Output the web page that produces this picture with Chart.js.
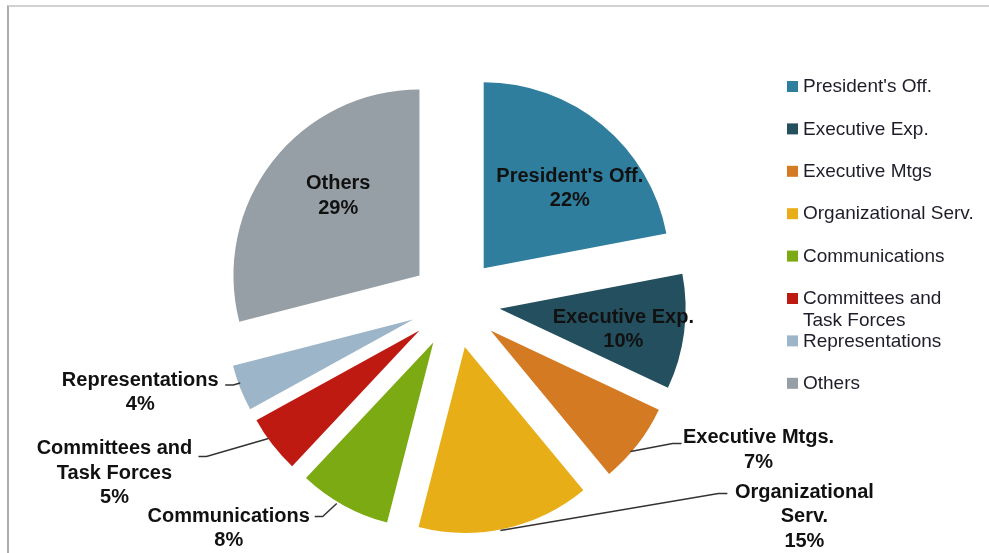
<!DOCTYPE html>
<html>
<head>
<meta charset="utf-8">
<script src="https://cdn.jsdelivr.net/npm/chart.js@4.4.1/dist/chart.umd.min.js"></script>
<style>
  html, body { margin: 0; padding: 0; background: #fff; }
  #wrap { position: relative; width: 989px; height: 553px; overflow: hidden; }
  #frame { position: absolute; left: 7px; top: 5px; right: 0; bottom: 0; border-top: 2px solid #d2d2d2; border-left: 2px solid #ababab; }
  canvas { position: absolute; left: 0; top: 0; }
</style>
</head>
<body>
<div id="wrap"><div id="frame"></div><canvas id="pie" width="989" height="553"></canvas></div>
<script>
  // data
  var categories = ["President's Off.", 'Executive Exp.', 'Executive Mtgs', 'Organizational Serv.', 'Communications', 'Committees and\nTask Forces', 'Representations', 'Others'];
  var sliceLabels = ["President's Off.", 'Executive Exp.', 'Executive Mtgs.', 'Organizational\nServ.', 'Communications', 'Committees and\nTask Forces', 'Representations', 'Others'];
  var shares = [22, 10, 7, 15, 8, 5, 4, 29];
  var colors = ['#2f7e9e', '#244f5e', '#d47a22', '#e8ae17', '#7caa12', '#be1a12', '#9cb5c8', '#969fa5'];

  var PIE_R = 186;
  var EXPLODE = 45;
  var LABEL_FONT = 'bold 20px "Liberation Sans", Arial, sans-serif';
  var LEGEND_FONT = '19px "Liberation Sans", Arial, sans-serif';

  // where each data label sits (inside the slice, or outside with a leader line)
  var labelPlace = [
    { inside: true, dx: 15, dy: 6 },
    { inside: true, dx: 13, dy: 7 },
    { from: [-7, 7], lead: [44, -1], text: [77, -6] },
    { from: [-5, 2], lead: [222, -35], text: [77, -1] },
    { from: [-7, -2], lead: [-29, 11], text: [-86, 0] },
    { from: [-4, -6], lead: [-74, 12], text: [-84, -8] },
    { from: [0, -5], lead: [-15, -3], text: [-85, -5] },
    { inside: true, dx: 7, dy: -11 }
  ];

  // chart.js grows small exploded slices and trims their angle; undo that so all slices keep one radius
  var explodeFix = {
    id: 'explodeFix',
    afterDatasetUpdate: function (chart, args) {
      args.meta.data.forEach(function (arc) {
        var shift = (arc.options.offset || 0) / 4;
        var grow = shift * (1 - Math.sin(Math.min(Math.PI, arc.circumference)));
        var R = arc.outerRadius;
        var t = grow / (2 * Math.PI * R);
        arc.outerRadius = R - grow;
        arc.startAngle -= t;
        arc.endAngle += t;
      });
    }
  };

  function drawLines(ctx, lines, x, y, step) {
    lines.forEach(function (s, k) {
      ctx.fillText(s, x, y + k * step);
    });
  }

  var sliceText = {
    id: 'sliceText',
    afterDatasetsDraw: function (chart) {
      var ctx = chart.ctx;
      var meta = chart.getDatasetMeta(0);
      var R = meta.controller.outerRadius;
      ctx.save();
      ctx.font = LABEL_FONT;
      ctx.fillStyle = '#111';
      ctx.textAlign = 'center';
      ctx.textBaseline = 'middle';
      meta.data.forEach(function (arc, i) {
        var mid = (arc.startAngle + arc.endAngle) / 2;
        var c = Math.cos(mid), s = Math.sin(mid);
        var shift = (arc.options.offset || 0) / 4;
        var ax = arc.x + c * shift, ay = arc.y + s * shift;
        var lines = sliceLabels[i].split('\n').concat([shares[i] + '%']);
        var p = labelPlace[i];
        var step = 24.5;
        if (p.inside) {
          var px = ax + c * R * 0.6 + p.dx;
          var py = ay + s * R * 0.6 + p.dy - (lines.length - 1) * step / 2;
          drawLines(ctx, lines, px, py, step);
          return;
        }
        var ox = ax + c * R, oy = ay + s * R;
        var sx = ox + p.from[0], sy = oy + p.from[1];
        var ex = ox + p.lead[0], ey = oy + p.lead[1];
        var elbow = p.lead[0] > 0 ? ex - 9 : ex + 8;
        ctx.strokeStyle = '#333';
        ctx.lineWidth = 1.5;
        ctx.beginPath();
        ctx.moveTo(sx, sy);
        ctx.lineTo(elbow, ey);
        ctx.lineTo(ex, ey);
        ctx.stroke();
        drawLines(ctx, lines, ex + p.text[0], ey + p.text[1], step);
      });
      ctx.restore();
    }
  };

  var sideLegend = {
    id: 'sideLegend',
    afterDraw: function (chart) {
      var ctx = chart.ctx;
      ctx.save();
      ctx.font = LEGEND_FONT;
      ctx.textAlign = 'left';
      ctx.textBaseline = 'middle';
      categories.forEach(function (name, i) {
        var y = 87 + i * 42.4;
        ctx.fillStyle = colors[i];
        ctx.fillRect(787, y - 6, 11, 11);
        ctx.fillStyle = '#1e1e2a';
        name.split('\n').forEach(function (s, k) {
          ctx.fillText(s, 803, y + k * 22);
        });
      });
      ctx.restore();
    }
  };

  new Chart(document.getElementById('pie'), {
    type: 'pie',
    data: {
      labels: categories,
      datasets: [{
        data: shares,
        backgroundColor: colors,
        borderWidth: 0,
        offset: EXPLODE * 4,
        radius: PIE_R,
        clip: false
      }]
    },
    options: {
      responsive: false,
      animation: false,
      events: [],
      layout: { padding: { left: 0, top: 53, right: 79, bottom: 0 } },
      plugins: { legend: { display: false }, tooltip: { enabled: false } }
    },
    plugins: [explodeFix, sliceText, sideLegend]
  });
</script>
</body>
</html>
